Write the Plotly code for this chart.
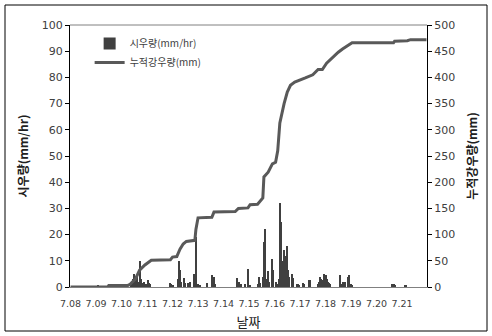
import plotly.graph_objects as go

# ---- data (hour index from 7.08 00:00) ----
day_labels = ["7.08", "7.09", "7.10", "7.11", "7.12", "7.13", "7.14",
              "7.15", "7.16", "7.17", "7.18", "7.19", "7.20", "7.21"]
day_hours = [0, 24, 48, 72, 96, 120, 144, 168, 192, 216, 240, 264, 288, 312]

# hourly rainfall (mm/hr), non-zero hours only
rain_hour = [26, 57, 59, 60, 62, 63, 64, 65, 66, 67, 68, 69, 71, 73, 74, 75,
             94, 95, 96, 101, 102, 103, 104, 107, 108, 111, 112, 116, 118,
             119, 120, 121, 122, 128, 133, 134, 135, 136, 157, 158, 159, 160,
             164, 167, 169, 176, 177, 178, 181, 182, 183, 184, 186, 187, 190,
             191, 193, 195, 196, 197, 198, 199, 200, 201, 202, 203, 204, 205,
             206, 208, 209, 213, 214, 215, 219, 220, 224, 225, 233, 234, 235,
             236, 237, 238, 239, 240, 241, 242, 243, 244, 254, 255, 256, 257,
             258, 261, 262, 263, 264, 265, 303, 304, 305, 315, 316]
rain_mm = [0.5, 1, 3, 5, 3, 4.5, 2, 10, 3, 1.5, 1, 2, 1, 2.5, 1.5, 1,
           1.5, 1, 0.5, 3, 10, 6.5, 2, 3.5, 1.5, 1.5, 2, 5, 19,
           1, 1, 0.5, 0.5, 1.5, 4.6, 1, 4, 1, 3.4, 1.5, 2, 1,
           1, 7, 0.5, 1, 4, 1.5, 4, 17, 22, 3, 6, 2, 10.5,
           6.5, 2, 1, 3, 32, 25, 10, 8, 14, 12, 12, 15.5, 6.5,
           4, 5, 3.5, 1, 1, 0.5, 1.5, 1, 2.5, 2.5, 1, 2, 4,
           3, 2, 2.5, 5, 4.5, 3, 2, 1.5, 1, 4.5, 1, 2, 1.5,
           2, 4, 4.5, 1, 1, 0.5, 1.2, 1, 0.5, 0.8, 0.8]

# cumulative rainfall (mm), read at key hours
cum_hour = [0, 35, 36, 54, 56, 61, 65, 70, 76, 94, 96, 100, 103, 106, 109,
            117, 118, 120, 133, 135, 155, 158, 167, 169, 176, 181, 182, 186,
            190, 193, 195, 197, 201, 204, 207, 211, 221, 228, 233, 237, 241,
            247, 252, 256, 261, 265, 304, 305, 317, 320, 335]
cum_mm = [0, 0, 3, 3, 5, 15, 32, 42, 51, 52, 57, 58, 72, 82, 87,
          89, 110, 132, 133, 143, 144, 150, 151, 157, 158, 170, 210, 219,
          235, 238, 260, 313, 350, 372, 385, 391, 399, 405, 415, 415, 427,
          439, 448, 454, 460, 466, 466, 469, 470, 472, 472]

tick_font = dict(family="DejaVu Sans, Noto Sans CJK KR", size=11, color="#404040")
xtick_font = dict(family="DejaVu Sans", size=9.5, color="#404040")
kfont = "Noto Sans CJK KR, DejaVu Sans"

fig = go.Figure()
fig.add_trace(go.Bar(x=rain_hour, y=rain_mm, name="시우량(mm/hr)",
                     marker=dict(color="#404040", line=dict(width=0)),
                     width=1.0, yaxis="y"))
fig.add_trace(go.Scatter(x=cum_hour, y=cum_mm, name="누적강우량(mm)",
                         mode="lines", line=dict(color="#595959", width=3),
                         yaxis="y2"))

fig.update_layout(
    width=492, height=336,
    margin=dict(l=70, r=65, t=25, b=49),
    paper_bgcolor="white", plot_bgcolor="white",
    showlegend=True,
    bargap=0,
    legend=dict(x=0.055, y=0.985, xanchor="left", yanchor="top",
                bgcolor="rgba(0,0,0,0)", tracegroupgap=0,
                font=dict(family=kfont, size=10, color="#404040"),
                itemwidth=30),
    xaxis=dict(range=[-0.5, 335.5], tickmode="array", tickvals=day_hours,
               ticktext=day_labels, showgrid=False, zeroline=False,
               showline=True, linecolor="#808080", linewidth=1,
               ticks="", tickfont=xtick_font, tickangle=0, automargin=False,
               ticklabelstandoff=8,
               title=dict(text="날짜", font=dict(family=kfont, size=13, color="#202020"),
                          standoff=9)),
    yaxis=dict(range=[0, 100], tickmode="linear", tick0=0, dtick=10,
               showgrid=False, zeroline=False, showline=True, automargin=False,
               linecolor="black", linewidth=1, ticks="outside", ticklen=4,
               tickcolor="black", tickfont=tick_font,
               title=dict(text="<b>시우량(mm/hr)</b>",
                          font=dict(family=kfont, size=12, color="#202020"),
                          standoff=10)),
    yaxis2=dict(range=[0, 500], tickmode="linear", tick0=0, dtick=50,
                overlaying="y", side="right", automargin=False,
                showgrid=False, zeroline=False, showline=True,
                linecolor="black", linewidth=1, ticks="outside", ticklen=4,
                tickcolor="black", tickfont=tick_font,
                title=dict(text="<b>누적강우량(mm)</b>",
                           font=dict(family=kfont, size=12, color="#202020"),
                           standoff=14)),
    shapes=[
        dict(type="rect", xref="paper", yref="paper",
             x0=-65/357, x1=(487-70)/357, y0=-(331-287)/262, y1=(287-5)/262,
             line=dict(color="black", width=1), fillcolor="rgba(0,0,0,0)",
             layer="below"),
        dict(type="line", xref="paper", yref="paper", x0=0, x1=1, y0=1, y1=1,
             line=dict(color="#808080", width=1)),
    ],
)

fig.write_html("out.html")
